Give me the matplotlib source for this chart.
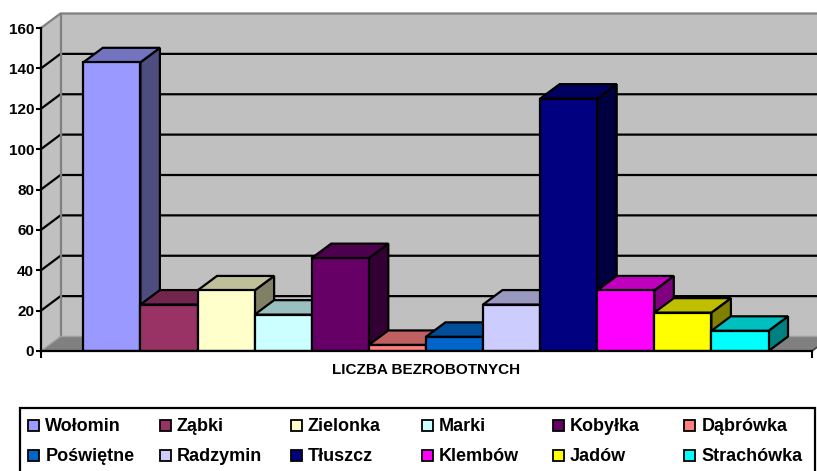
import matplotlib
matplotlib.use("Agg")
import matplotlib.pyplot as plt
from matplotlib.patches import Polygon, Rectangle
from matplotlib.colors import to_rgb

plt.rcParams['font.family'] = ['Liberation Sans', 'DejaVu Sans']
plt.rcParams['font.weight'] = 'bold'

# ---- data ----
regions = ["Wołomin", "Ząbki", "Zielonka", "Marki", "Kobyłka", "Dąbrówka",
           "Poświętne", "Radzymin", "Tłuszcz", "Klembów", "Jadów", "Strachówka"]
values = [143, 23, 30, 18, 46, 3, 7, 23, 125, 30, 19, 10]
colors = ["#9999FF", "#993366", "#FFFFCC", "#CCFFFF", "#660066", "#FF8080",
          "#0066CC", "#CCCCFF", "#000080", "#FF00FF", "#FFFF00", "#00FFFF"]
category_label = "LICZBA BEZROBOTNYCH"
y_ticks = [0, 20, 40, 60, 80, 100, 120, 140, 160]

# ---- layout (pixels) ----
W, H = 817, 471
fig = plt.figure(figsize=(W / 100, H / 100), dpi=100)

ax_left, ax_right = 41, 817
y0_px, ytop_tick_px = 351, 28
ppu_y = (y0_px - ytop_tick_px) / y_ticks[-1]
ax_top_px = 2
ax = fig.add_axes([ax_left / W, (H - y0_px) / H,
                   (ax_right - ax_left) / W, (y0_px - ax_top_px) / H])
bar_start_px = 83.3
ppu_x = 57.1
xmin = -(bar_start_px - ax_left) / ppu_x
xmax = xmin + (ax_right - ax_left) / ppu_x
ax.set_xlim(xmin, xmax)
ax.set_ylim(0, (y0_px - ax_top_px) / ppu_y)
dx = 19.5 / ppu_x
dy = 14.5 / ppu_y
x_end = xmin + (812 - ax_left) / ppu_x
far = xmax + 2
ytop = y_ticks[-1]

# ---- walls & floor ----
ax.add_patch(Polygon([(xmin + dx, dy), (far, dy), (far, ytop + dy), (xmin + dx, ytop + dy)],
                     closed=True, fc='#C0C0C0', ec='none', zorder=0.5))
ax.add_patch(Polygon([(xmin, 0), (xmin + dx, dy), (xmin + dx, ytop + dy), (xmin, ytop)],
                     closed=True, fc='#C0C0C0', ec='none', zorder=0.5))
ax.add_patch(Polygon([(xmin, 0), (x_end, 0), (x_end + dx, dy), (xmin + dx, dy)],
                     closed=True, fc='#808080', ec='none', zorder=0.6))
for v in y_ticks[1:-1]:
    ax.plot([xmin, xmin + dx, far], [v, v + dy, v + dy], color='black', lw=1.6,
            zorder=1, solid_capstyle='butt')
ax.plot([xmin, xmin + dx, far], [ytop, ytop + dy, ytop + dy], color='#808080', lw=1.6, zorder=1)
ax.plot([xmin + dx, xmin + dx], [dy, ytop + dy], color='#808080', lw=1.6, zorder=1)
ax.plot([xmin, xmin + dx, x_end + dx], [0, dy, dy], color='#A0A0A0', lw=1.0, zorder=1)
ax.plot([x_end, x_end + dx], [0, dy], color='#404040', lw=1.2, zorder=1)


def shade(c, f):
    r, g, b = to_rgb(c)
    return (r * f, g * f, b * f)


# ---- bars ----
for i, (v, c) in enumerate(zip(values, colors)):
    z = 3 + i
    ax.add_patch(Polygon([(i + 1, 0), (i + 1, v), (i + 1 + dx, v + dy), (i + 1 + dx, dy)],
                         closed=True, fc=shade(c, 0.5), ec='black', lw=1.6, zorder=z))
    ax.add_patch(Polygon([(i, v), (i + 1, v), (i + 1 + dx, v + dy), (i + dx, v + dy)],
                         closed=True, fc=shade(c, 0.75), ec='black', lw=1.6, zorder=z))
    ax.bar(i, v, width=1, align='edge', color=c, edgecolor='black', lw=1.6, zorder=z)

# ---- axes ----
for s in ['top', 'right']:
    ax.spines[s].set_visible(False)
ax.spines['left'].set_bounds(0, ytop)
ax.spines['bottom'].set_bounds(xmin, x_end)
for s in ['left', 'bottom']:
    ax.spines[s].set_linewidth(1.6)
    ax.spines[s].set_zorder(20)
ax.set_yticks(y_ticks)
ax.set_yticklabels([str(t) for t in y_ticks], fontsize=11, fontweight='bold')
ax.tick_params(axis='y', length=3.5, width=1.5, pad=1.5, direction='out')
ax.set_xticks([xmin, x_end])
ax.set_xticklabels(['', ''])
ax.tick_params(axis='x', which='major', length=5, width=1.5, direction='out')
ax.set_xticks([sum(range(len(values) + 1)) / (len(values) + 1)], [category_label], minor=True)
ax.tick_params(axis='x', which='minor', length=0, pad=8.5, labelsize=11)
for lab in ax.get_xticklabels(minor=True):
    lab.set_fontweight('bold')

# ---- legend (manual, equal columns) ----
leg_left, leg_right, leg_top, leg_bottom = 20, 815, 408, 485
fig.add_artist(Rectangle((leg_left / W, 1 - leg_bottom / H), (leg_right - leg_left) / W,
                         (leg_bottom - leg_top) / H, transform=fig.transFigure,
                         fill=False, ec='black', lw=1.6, clip_on=False))
col_x0, col_step = 28.3, 131.2
row_base = [431, 461]
sq = 11
for k, (name, c) in enumerate(zip(regions, colors)):
    r, col = divmod(k, 6)
    x = col_x0 + col * col_step
    yb = row_base[r]
    fig.add_artist(Rectangle((x / W, 1 - yb / H), sq / W, sq / H, transform=fig.transFigure,
                             fc=c, ec='black', lw=1.3))
    fig.text((x + sq + 6) / W, 1 - yb / H, name, fontsize=13, fontweight='bold',
             va='baseline', ha='left')

fig.savefig("out.png", dpi=100)
